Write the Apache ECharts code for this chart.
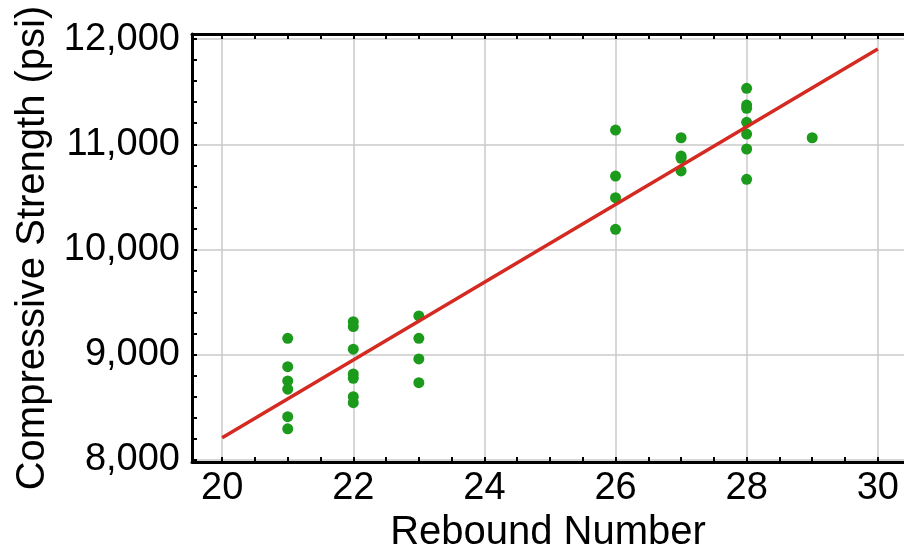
<!DOCTYPE html>
<html>
<head>
<meta charset="utf-8">
<script src="https://cdn.jsdelivr.net/npm/echarts@6/dist/echarts.min.js"></script>
<style>html,body{margin:0;padding:0;background:#fff;}#c{width:904px;height:544px;}</style>
</head>
<body>
<div id="c"></div>
<script>
// Data
const rebound = [21,21,21,21,21,21, 22,22,22,22,22,22,22, 23,23,23,23, 26,26,26,26, 27,27,27,27, 28,28,28,28,28,28,28, 29];
const strength = [9156,8886,8751,8672,8411,8295, 9314,9267,9052,8817,8776,8601,8544, 9368,9156,8960,8734, 11135,10698,10492,10192, 11062,10888,10867,10746, 11532,11373,11342,11209,11097,10955,10667, 11062];
const fitX = [20, 30];
const fitY = [8210, 11905];
const xTickLabels = [20, 22, 24, 26, 28, 30];
const xMinorTicks = [20,20.5,21,21.5,22,22.5,23,23.5,24,24.5,25,25.5,26,26.5,27,27.5,28,28.5,29,29.5,30];
const yTickLabels = [8000, 9000, 10000, 11000, 12000];
const yMinorTicks = [8000,8200,8400,8600,8800,9000,9200,9400,9600,9800,10000,10200,10400,10600,10800,11000,11200,11400,11600,11800,12000];

const X_MIN = 19.54, X_MAX = 30.40, Y_MIN = 7980, Y_MAX = 12048;
const FONT = '"Liberation Sans", Arial, sans-serif';
const fmt = v => String(v).replace(/\B(?=(\d{3})+(?!\d))/g, ',');

const chart = echarts.init(document.getElementById('c'), null, {renderer: 'canvas'});
const axisLineStyle = {show: true, lineStyle: {color: '#000', width: 3}};
const tickStyle = {show: true, inside: true, length: 5, lineStyle: {color: '#000', width: 2}};

chart.setOption({
  animation: false,
  backgroundColor: '#fff',
  grid: {left: 192, right: 0, top: 34, bottom: 82, containLabel: false, outerBoundsMode: 'none'},
  xAxis: [
    {
      type: 'value', min: X_MIN, max: X_MAX, position: 'bottom',
      axisLine: axisLineStyle,
      axisTick: Object.assign({customValues: xMinorTicks}, tickStyle),
      axisLabel: {customValues: xTickLabels, color: '#000', fontSize: 38, fontFamily: FONT, margin: 8},
      splitLine: {show: false},
      name: 'Rebound Number', nameLocation: 'middle', nameGap: 38,
      nameTextStyle: {color: '#000', fontSize: 40, fontFamily: FONT}
    },
    {
      type: 'value', min: X_MIN, max: X_MAX, position: 'top',
      axisLine: axisLineStyle,
      axisTick: Object.assign({customValues: xMinorTicks}, tickStyle),
      axisLabel: {show: false},
      splitLine: {show: false}
    },
    {
      type: 'value', min: X_MIN, max: X_MAX, position: 'bottom',
      axisLine: {show: false},
      axisTick: {show: false, customValues: xTickLabels},
      axisLabel: {show: false},
      splitLine: {show: true, lineStyle: {color: '#cacaca', width: 1.5}}
    }
  ],
  yAxis: [
    {
      type: 'value', min: Y_MIN, max: Y_MAX, position: 'left',
      axisLine: axisLineStyle,
      axisTick: Object.assign({customValues: yMinorTicks}, tickStyle),
      axisLabel: {customValues: yTickLabels, color: '#000', fontSize: 38, fontFamily: FONT, margin: 12, formatter: fmt},
      splitLine: {show: false},
      name: 'Compressive Strength (psi)', nameLocation: 'middle', nameGap: 135,
      nameTextStyle: {color: '#000', fontSize: 40, fontFamily: FONT}
    },
    {
      type: 'value', min: Y_MIN, max: Y_MAX, position: 'left',
      axisLine: {show: false},
      axisTick: {show: false, customValues: yTickLabels},
      axisLabel: {show: false},
      splitLine: {show: true, lineStyle: {color: '#cacaca', width: 1.5}}
    }
  ],
  series: [
    {
      type: 'scatter', xAxisIndex: 0, yAxisIndex: 0,
      data: rebound.map((x, i) => [x, strength[i]]),
      symbolSize: 11,
      itemStyle: {color: '#1c9a1c', opacity: 1},
      z: 3
    },
    {
      type: 'line', xAxisIndex: 0, yAxisIndex: 0,
      data: fitX.map((x, i) => [x, fitY[i]]),
      symbol: 'none',
      lineStyle: {color: '#d42a22', width: 3.5},
      z: 4
    }
  ]
});
</script>
</body>
</html>
